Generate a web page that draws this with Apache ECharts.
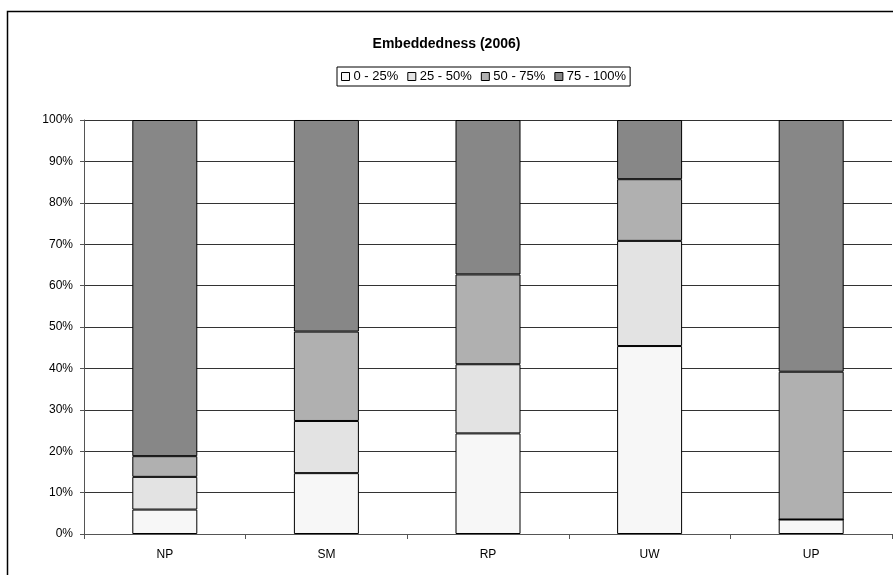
<!DOCTYPE html>
<html>
<head>
    <meta charset="utf-8">
    <title>Embeddedness (2006)</title>
    <script src="https://cdn.jsdelivr.net/npm/echarts@6/dist/echarts.min.js"></script>
    <style>
        html, body { margin: 0; padding: 0; background: #fff; }
    </style>
</head>
<body>
    <div id="main" style="width: 893px;height:575px;"></div>

    <script type="text/javascript">
        // categories and series shares (percent of each bar)
        var categories = ['NP', 'SM', 'RP', 'UW', 'UP'];
        var seriesNames = ['0 - 25%', '25 - 50%', '50 - 75%', '75 - 100%'];
        var q1 = [5.9, 14.7, 24.3, 45.4, 3.5];
        var q2 = [7.9, 12.6, 16.7, 25.4, 0];
        var q3 = [5.0, 21.6, 21.7, 14.9, 35.7];
        var q4 = [81.2, 51.1, 37.3, 14.3, 60.8];
        var colors = ['#f7f7f7', '#e3e3e3', '#b0b0b0', '#878787'];

        var myChart = echarts.init(document.getElementById('main'));

        var allData = [q1, q2, q3, q4];
        var series = allData.map(function (d, i) {
            return {
                name: seriesNames[i],
                type: 'bar',
                stack: 'total',
                barWidth: 65,
                data: d,
                itemStyle: {
                    color: colors[i],
                    borderColor: '#000',
                    borderWidth: 1
                }
            };
        });

        var option = {
            backgroundColor: '#fff',
            animation: false,
            textStyle: { fontFamily: 'Liberation Sans, Arial, sans-serif' },
            title: {
                text: 'Embeddedness (2006)',
                left: 'center',
                top: 32,
                textStyle: { fontSize: 14, fontWeight: 'bold', color: '#000' }
            },
            legend: {
                data: seriesNames,
                top: 67,
                left: 337,
                icon: 'rect',
                itemWidth: 8,
                itemHeight: 8,
                itemGap: 9,
                borderColor: '#000',
                borderWidth: 1,
                borderRadius: 0,
                padding: [3, 4, 3, 4],
                textStyle: { fontSize: 13, color: '#000', padding: [0, 0, 0, -1] },
                itemStyle: { borderColor: '#000', borderWidth: 1 }
            },
            grid: {
                left: 84,
                right: 1,
                top: 120,
                bottom: 41
            },
            xAxis: {
                type: 'category',
                data: categories,
                axisLine: { lineStyle: { color: '#555', width: 1 } },
                axisTick: { show: true, length: 5, lineStyle: { color: '#555' } },
                axisLabel: { fontSize: 12, color: '#000', margin: 15 }
            },
            yAxis: {
                type: 'value',
                min: 0,
                max: 100,
                interval: 10,
                axisLine: { show: true, lineStyle: { color: '#555', width: 1 } },
                axisTick: { show: true, length: 4, lineStyle: { color: '#555' } },
                axisLabel: { fontSize: 12, color: '#000', margin: 11, formatter: '{value}%' },
                splitLine: { lineStyle: { color: '#333', width: 1 } }
            },
            graphic: [{
                type: 'rect',
                shape: { x: 7.5, y: 11.5, width: 900, height: 600 },
                style: { fill: 'none', stroke: '#000', lineWidth: 1.5 },
                silent: true
            }],
            series: series
        };

        myChart.setOption(option);
    </script>
</body>
</html>
